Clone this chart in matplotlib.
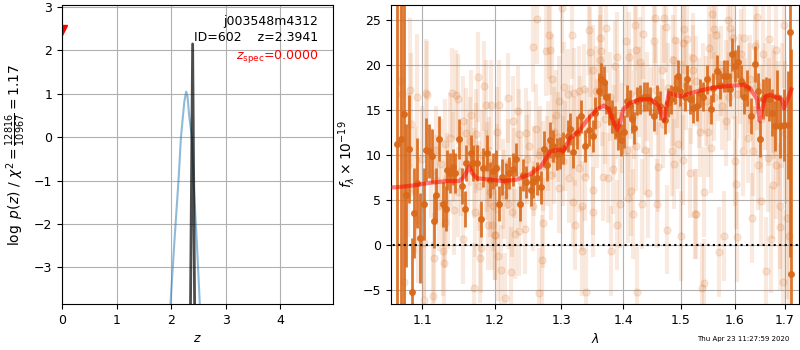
import numpy as np
import matplotlib
matplotlib.use('Agg')
import matplotlib.pyplot as plt
from matplotlib.ticker import FixedLocator, NullLocator, FormatStrFormatter

# ---- left panel: p(z)
pz_z = [1.95, 1.99, 2.06, 2.135, 2.18, 2.24, 2.275, 2.30, 2.33, 2.38, 2.41, 2.47, 2.52, 2.56]
pz_log = [-5.5, -3.8, -2.4, -1.0, 0.0, 0.8, 1.05, 0.95, 0.5, 0.0, -1.0, -2.4, -3.7, -5.0]
spike_z = [2.30, 2.355, 2.394, 2.43, 2.48]
spike_log = [-40, -3.85, 2.15, -3.85, -40]
zspec_z = [0.0]
zspec_y = [2.47]
z_ticks = [0, 1, 2, 3, 4]

# ---- right panel: binned spectrum
dark_wave = [1.068, 1.073, 1.076, 1.079, 1.083, 1.087, 1.090, 1.093, 1.097, 1.102,
             1.105, 1.109, 1.113, 1.116, 1.119, 1.123, 1.128, 1.132, 1.134, 1.138,
             1.141, 1.144, 1.150, 1.154, 1.158, 1.160, 1.166, 1.169, 1.175, 1.180,
             1.184, 1.189, 1.194, 1.198, 1.202, 1.207, 1.211, 1.216, 1.221, 1.226,
             1.231, 1.237, 1.241, 1.246, 1.253, 1.257, 1.263, 1.268, 1.273, 1.278,
             1.283, 1.287, 1.293, 1.298, 1.303, 1.310, 1.314, 1.319, 1.325, 1.331,
             1.337, 1.344, 1.350, 1.354, 1.360, 1.364, 1.368, 1.372, 1.376, 1.381,
             1.387, 1.392, 1.396, 1.401, 1.407, 1.412, 1.415, 1.419, 1.423, 1.429,
             1.435, 1.441, 1.446, 1.453, 1.458, 1.464, 1.472, 1.477, 1.483, 1.489,
             1.495, 1.499, 1.507, 1.512, 1.517, 1.523, 1.529, 1.535, 1.541, 1.548,
             1.555, 1.560, 1.566, 1.572, 1.580, 1.585, 1.591, 1.595, 1.601, 1.606,
             1.613, 1.618, 1.624, 1.632, 1.639, 1.645, 1.649, 1.656, 1.661, 1.667,
             1.674, 1.680, 1.683, 1.690, 1.697, 1.705, 1.710, 1.713]
dark_flux = [11.2, 11.8, 14.6, 5.5, 10.7, -5.2, 3.5, 6.9, 0.8, 4.5,
             10.6, 10.4, 9.9, 2.6, 5.6, 11.8, 4.5, 4.0, 8.3, 8.0,
             8.7, 8.0, 11.8, 6.5, 4.0, 9.1, 10.2, 9.1, 9.1, 2.9,
             8.6, 10.2, 7.2, 8.2, 8.6, 4.6, 7.6, 7.1, 8.0, 8.4,
             9.5, 4.6, 7.8, 7.0, 6.1, 7.0, 7.4, 6.4, 10.7, 8.9,
             11.7, 11.0, 10.1, 10.2, 10.8, 12.1, 12.9, 10.3, 12.5, 14.3,
             11.0, 12.8, 12.1, 14.7, 17.1, 18.4, 18.1, 16.4, 15.1, 14.3,
             13.6, 12.3, 11.7, 12.6, 16.0, 15.6, 14.0, 13.0, 16.0, 16.2,
             16.5, 16.5, 16.0, 14.3, 16.2, 15.5, 13.9, 15.8, 16.2, 17.3,
             18.8, 17.1, 16.5, 18.4, 16.2, 15.2, 15.4, 16.9, 16.5, 18.4,
             15.1, 17.5, 19.3, 17.8, 18.8, 18.8, 17.3, 21.2, 19.9, 20.4,
             18.2, 16.4, 17.5, 14.3, 20.1, 17.1, 11.8, 16.2, 16.5, 16.2,
             14.7, 13.2, 16.5, 13.2, 13.3, 13.3, 23.7, -3.2]
dark_err = [25, 25, 25, 8, 6, 6, 5, 5, 5, 4,
            3.5, 3, 3, 3, 3, 2.5, 2.5, 2.5, 2.2, 2.2,
            2.0, 2.2, 2.2, 2.0, 2.0, 2.0, 2.0, 2.0, 2.0, 2.0,
            2.2, 2.0, 2.0, 2.0, 2.0, 2.0, 2.0, 2.0, 1.8, 1.8,
            1.8, 2.0, 1.8, 1.8, 1.8, 1.8, 1.8, 1.8, 2.0, 1.8,
            2.0, 1.8, 1.8, 1.8, 1.8, 1.8, 1.8, 1.8, 1.8, 1.8,
            1.8, 1.8, 1.8, 1.8, 2.0, 1.8, 1.8, 1.8, 1.8, 1.8,
            1.8, 1.8, 1.8, 1.8, 1.8, 1.6, 1.6, 1.8, 1.6, 1.6,
            1.6, 1.6, 1.6, 1.6, 1.6, 1.6, 1.6, 1.6, 1.6, 1.6,
            1.8, 1.6, 1.6, 1.6, 1.6, 1.6, 1.6, 1.6, 1.6, 1.6,
            1.6, 1.6, 1.8, 1.6, 1.8, 1.8, 1.8, 1.8, 1.8, 1.8,
            1.8, 1.8, 2.0, 2.0, 2.0, 2.0, 2.0, 2.2, 2.2, 2.4,
            2.6, 2.8, 3.0, 3.5, 4.0, 6.0, 25, 25]

# unbinned (faint) points
faint_wave = [1.076, 1.071, 1.074, 1.084, 1.093, 1.086, 1.081, 1.091, 1.094, 1.102,
              1.107, 1.105, 1.114, 1.116, 1.119, 1.123, 1.128, 1.129, 1.130, 1.137,
              1.140, 1.146, 1.148, 1.149, 1.155, 1.156, 1.165, 1.166, 1.171, 1.176,
              1.185, 1.179, 1.181, 1.188, 1.195, 1.197, 1.194, 1.200, 1.196, 1.103,
              1.131, 1.135, 1.143, 1.172, 1.182, 1.174, 1.189, 1.190, 1.173, 1.160,
              1.206, 1.219, 1.204, 1.201, 1.205, 1.209, 1.224, 1.215, 1.234, 1.235,
              1.226, 1.256, 1.263, 1.276, 1.281, 1.282, 1.285, 1.301, 1.317, 1.304,
              1.311, 1.320, 1.327, 1.336, 1.344, 1.346, 1.351, 1.355, 1.246, 1.251,
              1.261, 1.271, 1.270, 1.266, 1.229, 1.236, 1.244, 1.257, 1.225, 1.220,
              1.214, 1.296, 1.318, 1.332, 1.350, 1.333, 1.339, 1.322, 1.312, 1.337,
              1.291, 1.297, 1.289, 1.302, 1.328, 1.277, 1.267, 1.284,
              1.361, 1.372, 1.363, 1.362, 1.389, 1.386, 1.366, 1.375, 1.383, 1.394,
              1.390, 1.379, 1.405, 1.410, 1.420, 1.421, 1.433, 1.428, 1.452, 1.455,
              1.470, 1.467, 1.474, 1.489, 1.487, 1.506, 1.504, 1.512, 1.522, 1.523,
              1.414, 1.408, 1.432, 1.442, 1.458, 1.417, 1.423, 1.475, 1.500, 1.526,
              1.517, 1.505, 1.488, 1.459, 1.437, 1.406, 1.422, 1.484, 1.496, 1.351,
              1.538, 1.542, 1.528, 1.543, 1.570, 1.580, 1.605, 1.603, 1.634, 1.651,
              1.662, 1.672, 1.675, 1.689, 1.690, 1.695, 1.708, 1.704, 1.561, 1.564,
              1.558, 1.587, 1.592, 1.598, 1.618, 1.613, 1.639, 1.643, 1.656, 1.667,
              1.682, 1.697, 1.535, 1.550, 1.556, 1.584, 1.600, 1.616, 1.626, 1.636,
              1.645, 1.665, 1.681, 1.678, 1.551, 1.575, 1.629,
              1.100, 1.112, 1.118, 1.125, 1.133, 1.142, 1.152, 1.162, 1.170, 1.178,
              1.187, 1.192, 1.203, 1.212, 1.220, 1.228, 1.238, 1.248, 1.258, 1.265,
              1.272, 1.280, 1.288, 1.295, 1.305, 1.315, 1.322, 1.330, 1.340, 1.347,
              1.357, 1.365, 1.370, 1.378, 1.385, 1.392, 1.398, 1.404, 1.411, 1.418,
              1.426, 1.434, 1.440, 1.448, 1.456, 1.462, 1.469, 1.478, 1.486, 1.493,
              1.502, 1.510, 1.518, 1.527, 1.533, 1.540, 1.547, 1.553, 1.562, 1.568,
              1.577, 1.583, 1.590, 1.597, 1.604, 1.610, 1.620, 1.628, 1.637, 1.643,
              1.652, 1.660, 1.668, 1.676, 1.685, 1.693, 1.700]
faint_flux = [-4.1, 18.2, 16.8, 17.2, 16.5, 13.4, 8.9, 6.1, 2.8, -6.1,
              16.7, 16.9, -5.7, -1.5, 7.2, 4.3, -0.7, -2.0, 11.2, 11.9,
              16.9, 16.7, 16.2, 5.9, 0.6, 13.8, 11.5, 14.5, -4.8, 18.7,
              17.7, -1.5, -0.4, 15.6, 15.6, 4.3, 5.9, 1.1, 2.2, 0.2,
              2.4, 4.5, 3.9, 3.7, 10.0, 12.3, 8.7, 2.2, 10.8, 12.5,
              15.6, 16.3, 12.6, 1.1, -1.2, -2.8, -3.0, -5.9, 14.9, 12.3,
              13.8, 22.0, 25.1, 21.6, 23.4, 21.7, 18.5, 26.3, 23.4, 17.6,
              16.8, 16.9, 17.1, 17.3, 23.9, 21.5, 19.5, 17.1, 12.5, 11.0,
              12.9, 2.4, -1.7, -5.4, 1.2, 1.5, 1.8, 4.3, 3.7, 4.5,
              5.6, 6.3, 4.8, 4.3, 6.1, -0.7, -5.2, 2.2, 7.4, 7.6,
              14.5, 16.0, 12.6, 9.3, 8.6, 9.3, 10.4, 7.8,
              23.0, 24.1, 21.6, 20.6, 20.9, 19.9, 7.6, 7.4, 8.4, 4.6,
              2.2, -0.7, 22.7, 20.9, 24.5, 21.7, 23.5, 20.3, 22.7, 25.2,
              25.2, 19.5, 24.2, 22.8, 20.6, 24.0, 22.5, 22.9, 20.8, 19.5,
              6.0, 5.2, 4.5, 5.8, 4.6, 3.4, -5.2, 1.7, 1.0, 3.4,
              8.0, 9.4, 9.0, 8.7, 10.6, 10.6, 11.0, 10.4, 11.2, 3.7,
              -4.8, -4.3, 3.4, 5.9, -0.8, 1.0, 0.9, 6.8, 3.0, 4.9,
              -2.9, 0.6, 6.7, 4.3, 2.0, -4.1, 1.0, 3.0, 24.0, 23.3,
              25.7, 25.0, 24.1, 23.0, 23.0, 21.2, 22.1, 25.4, 21.2, 22.9,
              21.7, 24.5, 12.6, 12.6, 10.8, 13.8, 9.3, 10.4, 11.9, 10.4,
              8.9, 9.7, 8.9, 15.6, 21.9, 19.3, 18.4,
              9.5, 8.0, 10.5, 9.0, 7.5, 9.8, 8.2, 9.0, 8.0, 6.5,
              7.8, 9.2, 8.5, 6.8, 9.0, 8.0, 7.0, 9.5, 8.2, 10.0,
              8.8, 11.0, 9.5, 12.0, 11.0, 12.8, 11.5, 13.8, 12.5, 14.8,
              13.5, 16.0, 14.0, 16.5, 12.8, 14.5, 13.0, 15.0, 16.8, 14.5,
              17.0, 15.2, 16.5, 14.8, 17.2, 15.0, 13.5, 17.5, 16.0, 18.0,
              15.5, 17.8, 16.2, 18.2, 15.8, 17.5, 16.0, 18.5, 16.5, 18.8,
              15.5, 17.8, 16.5, 19.0, 16.8, 18.5, 15.8, 17.5, 15.0, 17.8,
              14.0, 16.5, 14.8, 16.2, 13.5, 15.5, 12.5]
faint_err = [10, 10, 10, 8, 7, 8, 8, 7, 7, 6,
             6, 6, 6, 5, 5, 5, 5, 5, 5, 5,
             5, 5, 5, 5, 5, 5, 5, 5, 5, 5,
             5, 5, 5, 5, 5, 5, 5, 5, 5, 6,
             5, 5, 5, 5, 5, 5, 5, 5, 5, 5,
             5, 5, 5, 5, 5, 5, 5, 5, 5, 5,
             5, 5, 5, 5, 5, 5, 5, 5, 5, 5,
             5, 5, 5, 5, 5, 5, 5, 5, 5, 5,
             5, 5, 5, 5, 5, 5, 5, 5, 5, 5,
             5, 5, 5, 5, 5, 5, 5, 5, 5, 5,
             5, 5, 5, 5, 5, 5, 5, 5,
             5, 5, 5, 5, 5, 5, 5, 5, 5, 5,
             5, 5, 5, 5, 5, 5, 5, 5, 5, 5,
             5, 5, 5, 5, 5, 5, 5, 5, 5, 5,
             5, 5, 5, 5, 5, 5, 5, 5, 5, 5,
             5, 5, 5, 5, 5, 5, 5, 5, 5, 5,
             5, 5, 5, 5, 5, 5, 5, 5, 5, 5,
             6, 6, 6, 7, 7, 8, 9, 9, 5, 5,
             5, 5, 5, 5, 5, 5, 5, 5, 6, 6,
             6, 7, 5, 5, 5, 5, 5, 5, 5, 5,
             5, 6, 6, 6, 5, 5, 5,
             6, 5, 5, 5, 5, 5, 5, 5, 5, 5,
             5, 5, 5, 5, 5, 5, 5, 5, 5, 5,
             5, 5, 5, 5, 5, 5, 5, 5, 5, 5,
             5, 5, 5, 5, 5, 5, 5, 5, 5, 5,
             5, 5, 5, 5, 5, 5, 5, 5, 5, 5,
             5, 5, 5, 5, 5, 5, 5, 5, 5, 5,
             5, 5, 5, 5, 5, 5, 5, 5, 5, 5,
             6, 6, 6, 6, 7, 7, 8]

# best-fit model
model_wave = [1.060, 1.066, 1.088, 1.110, 1.134, 1.150, 1.157, 1.164, 1.168, 1.175,
              1.194, 1.212, 1.232, 1.253, 1.268, 1.283, 1.298, 1.303, 1.314, 1.327,
              1.341, 1.357, 1.368, 1.376, 1.384, 1.390, 1.395, 1.400, 1.412, 1.429,
              1.447, 1.461, 1.470, 1.476, 1.479, 1.499, 1.530, 1.561, 1.592, 1.618,
              1.630, 1.644, 1.649, 1.654, 1.660, 1.670, 1.683, 1.693, 1.698, 1.705,
              1.713]
model_flux = [6.4, 6.4, 6.6, 6.9, 7.1, 7.1, 7.6, 8.7, 8.0, 7.4,
              7.25, 7.1, 7.25, 7.9, 8.7, 10.4, 10.6, 10.4, 11.9, 12.6,
              13.9, 15.1, 15.5, 15.1, 13.6, 12.8, 13.6, 15.1, 15.8, 16.2,
              16.2, 15.5, 13.8, 16.0, 16.9, 16.5, 17.1, 17.5, 17.7, 17.8,
              17.4, 16.2, 13.8, 15.1, 16.5, 16.7, 16.4, 16.2, 15.2, 16.2,
              17.3]
wave_ticks = [1.1, 1.2, 1.3, 1.4, 1.5, 1.6, 1.7]

orange = (0.85, 0.41, 0.1)

fig = plt.figure(figsize=(8, 3.5), dpi=100)
plt.rcParams['font.size'] = 9

# left
ax1 = fig.add_axes([0.0775, 0.131, 0.339, 0.855])
ax1.plot(pz_z, pz_log, color='tab:blue', alpha=0.5, lw=1.5)
ax1.plot(spike_z, spike_log, color='k', alpha=0.7, lw=2)
ax1.plot(zspec_z, zspec_y, 'v', color='r', ms=7)
ax1.set_xlim(0, 4.97)
ax1.set_ylim(-3.85, 3.05)
ax1.set_xticks(z_ticks)
ax1.grid(True)
ax1.set_xlabel(r'$z$')
ax1.set_ylabel(r'$\log\ p(z)$ / $\chi^2=\frac{12816}{10967}=1.17$', fontsize=10)
ax1.text(0.945, 0.943, 'j003548m4312', transform=ax1.transAxes, ha='right', va='center', fontsize=9)
ax1.text(0.945, 0.890, 'ID=602    z=2.3941', transform=ax1.transAxes, ha='right', va='center', fontsize=9)
ax1.text(0.945, 0.828, r'$z_\mathrm{spec}$=0.0000', transform=ax1.transAxes, ha='right', va='center',
         fontsize=9, color='r')

# right
ax2 = fig.add_axes([0.489, 0.131, 0.51, 0.855])
ax2.errorbar(faint_wave, faint_flux, faint_err, marker='o', ms=5, linestyle='None',
             color=orange, alpha=0.14, elinewidth=3, zorder=1)
ax2.errorbar(dark_wave, dark_flux, dark_err, marker='o', ms=4, linestyle='None',
             color=orange, alpha=0.9, elinewidth=2, zorder=2)
ax2.plot(model_wave, model_flux, color='r', alpha=0.5, lw=3, zorder=3)
ax2.plot([1.0, 1.8], [0, 0], color='k', linestyle=':', lw=1.5, zorder=4)
ax2.set_xscale('log')
ax2.set_xlim(1.060, 1.729)
ax2.set_ylim(-6.6, 26.7)
ax2.xaxis.set_major_locator(FixedLocator(wave_ticks))
ax2.xaxis.set_major_formatter(FormatStrFormatter('%.1f'))
ax2.xaxis.set_minor_locator(NullLocator())
ax2.grid(True)
ax2.set_axisbelow(True)
ax2.set_xlabel(r'$\lambda$')
ax2.set_ylabel(r'$f_\lambda\times 10^{-19}$', fontsize=10)

fig.text(0.929, 0.03, 'Thu Apr 23 11:27:59 2020', ha='center', va='center', fontsize=5)

fig.savefig('out.png', dpi=100)
